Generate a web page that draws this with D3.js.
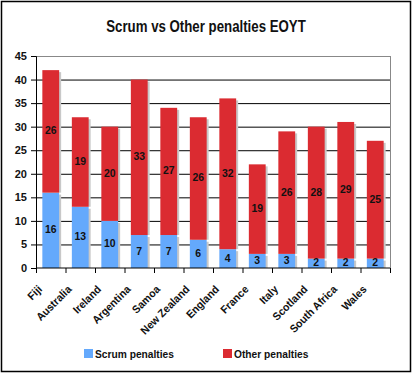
<!DOCTYPE html><meta charset="utf-8"><style>
    body { margin: 0; background: #fff; }
    svg text { font-family: "Liberation Sans", Arial, sans-serif; font-weight: bold; fill: #111; }
</style><svg width="412" height="374"></svg><script src="https://cdn.jsdelivr.net/npm/d3@7"></script><script>

    var width = 412, height = 374;
    var margin = ({top: 56, right: 22, bottom: 106, left: 36});

    var countries = ["Fiji", "Australia", "Ireland", "Argentina", "Samoa", "New Zealand",
        "England", "France", "Italy", "Scotland", "South Africa", "Wales"];
    var scrum = [16, 13, 10, 7, 7, 6, 4, 3, 3, 2, 2, 2];
    var other = [26, 19, 20, 33, 27, 26, 32, 19, 26, 28, 29, 25];
    var yTicks = [0, 5, 10, 15, 20, 25, 30, 35, 40, 45];
    var seriesNames = ["Scrum penalties", "Other penalties"];
    var colors = ["#64a9fc", "#db2b31"];

    var data = countries.map((c, i) => ({name: c, scrum: scrum[i], other: other[i]}));
    var series = d3.stack().keys(["scrum", "other"])(data);

    var svg = d3.select("svg").attr("viewBox", [0, 0, width, height]);

    // outer frame
    svg.append("rect").attr("x", 1.5).attr("y", 1.5)
        .attr("width", width - 3).attr("height", height - 4)
        .attr("fill", "none").attr("stroke", "#000").attr("stroke-width", 1.5);

    // title (condensed look)
    svg.append("text")
        .attr("transform", `translate(${width / 2},32) scale(0.78,1)`)
        .attr("text-anchor", "middle").style("font-size", "17px")
        .text("Scrum vs Other penalties EOYT");

    var x = d3.scaleBand().domain(countries)
        .range([margin.left, width - margin.right]).paddingInner(0.43).paddingOuter(0.215);
    var y = d3.scaleLinear().domain([0, 45]).range([height - margin.bottom, margin.top]);

    // gridlines
    svg.append("g").selectAll("line").data(yTicks.slice(1)).join("line")
        .attr("x1", margin.left).attr("x2", width - margin.right)
        .attr("y1", d => y(d) + 0.5).attr("y2", d => y(d) + 0.5)
        .attr("stroke", d => d === 45 ? "#888" : "#000").attr("stroke-width", 1);
    svg.append("line")
        .attr("x1", width - margin.right + 0.5).attr("x2", width - margin.right + 0.5)
        .attr("y1", y(45)).attr("y2", y(0))
        .attr("stroke", "#888");

    // bars with shadow
    var groups = svg.append("g").selectAll("g").data(series).join("g");
    groups.selectAll("rect.sh").data(d => d).join("rect").attr("class", "sh")
        .attr("x", d => x(d.data.name) + 2).attr("y", d => y(d[1]) + 2)
        .attr("width", x.bandwidth()).attr("height", d => y(d[0]) - y(d[1]) - 2)
        .attr("fill", "#c8c8c8");
    groups.selectAll("rect.bar").data(d => d).join("rect").attr("class", "bar")
        .attr("x", d => x(d.data.name)).attr("y", d => y(d[1]))
        .attr("width", x.bandwidth()).attr("height", d => y(d[0]) - y(d[1]))
        .attr("fill", (d, i, n) => colors[series.indexOf(d3.select(n[i].parentNode).datum())]);

    // value labels
    series.forEach(s => {
        svg.append("g").selectAll("text").data(s).join("text")
            .attr("transform", d => `translate(${x(d.data.name) + x.bandwidth() / 2},${(y(d[0]) + y(d[1])) / 2 + 3}) scale(0.95,1)`)
            .attr("text-anchor", "middle").style("font-size", "11px")
            .text(d => d.data[s.key]);
    });

    // y axis
    var yAxis = svg.append("g").attr("transform", `translate(${margin.left},0)`)
        .call(d3.axisLeft(y).tickValues(yTicks).tickSize(5).tickPadding(4));
    yAxis.selectAll("text").style("font-size", "11px").attr("fill", "#111");
    yAxis.selectAll("line, path").attr("stroke", "#000");

    // x axis
    var xAxis = svg.append("g").attr("transform", `translate(0,${y(0)})`);
    xAxis.append("line").attr("x1", margin.left).attr("x2", width - margin.right)
        .attr("stroke", "#000");
    xAxis.selectAll("line.t").data(d3.range(countries.length + 1)).join("line").attr("class", "t")
        .attr("x1", i => margin.left + i * x.step() + 0.5)
        .attr("x2", i => margin.left + i * x.step() + 0.5)
        .attr("y1", 0).attr("y2", 5).attr("stroke", "#000");
    xAxis.selectAll("text").data(countries).join("text")
        .attr("transform", d => `translate(${x(d) + x.bandwidth() / 2 - 8},22) rotate(-45) scale(0.95,1)`)
        .attr("text-anchor", "end").style("font-size", "11px")
        .text(d => d);

    // legend
    var legend = svg.append("g").selectAll("g").data(seriesNames).join("g")
        .attr("transform", (d, i) => `translate(${84 + i * 139},349)`);
    legend.append("rect").attr("width", 9).attr("height", 9)
        .attr("fill", (d, i) => colors[i]);
    legend.append("text").attr("transform", "translate(11,9) scale(0.93,1)")
        .style("font-size", "11px").text(d => d);

</script>
